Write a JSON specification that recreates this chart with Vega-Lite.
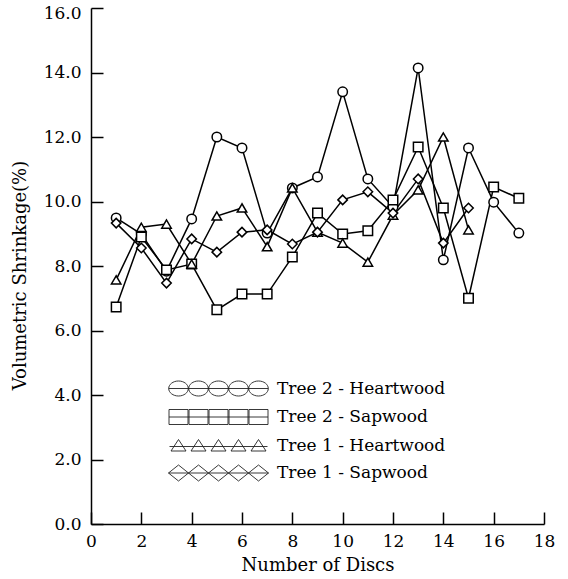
{
  "$schema": "https://vega.github.io/schema/vega-lite/v6.json",
  "width": 453,
  "height": 516,
  "autosize": {"type": "none"},
  "padding": {"left": 91, "top": 8, "right": 24, "bottom": 55},
  "background": "white",
  "config": {
    "view": {"stroke": null},
    "font": "DejaVu Serif",
    "axis": {
      "grid": false,
      "domainColor": "black",
      "domainWidth": 1.5,
      "tickColor": "black",
      "tickWidth": 1.5,
      "tickSize": -12,
      "labelFont": "DejaVu Serif",
      "labelFontSize": 17,
      "labelColor": "black",
      "titleFont": "DejaVu Serif",
      "titleFontSize": 18,
      "titleFontWeight": "normal",
      "titleColor": "black"
    }
  },
  "data": {
    "values": [
      {"Disc": 1, "Series": "Tree 2 - Heartwood", "Shrinkage": 9.49},
      {"Disc": 2, "Series": "Tree 2 - Heartwood", "Shrinkage": 8.99},
      {"Disc": 3, "Series": "Tree 2 - Heartwood", "Shrinkage": 7.84},
      {"Disc": 4, "Series": "Tree 2 - Heartwood", "Shrinkage": 9.46},
      {"Disc": 5, "Series": "Tree 2 - Heartwood", "Shrinkage": 12.0},
      {"Disc": 6, "Series": "Tree 2 - Heartwood", "Shrinkage": 11.66},
      {"Disc": 7, "Series": "Tree 2 - Heartwood", "Shrinkage": 9.02},
      {"Disc": 8, "Series": "Tree 2 - Heartwood", "Shrinkage": 10.42},
      {"Disc": 9, "Series": "Tree 2 - Heartwood", "Shrinkage": 10.76},
      {"Disc": 10, "Series": "Tree 2 - Heartwood", "Shrinkage": 13.4},
      {"Disc": 11, "Series": "Tree 2 - Heartwood", "Shrinkage": 10.7},
      {"Disc": 12, "Series": "Tree 2 - Heartwood", "Shrinkage": 9.83},
      {"Disc": 13, "Series": "Tree 2 - Heartwood", "Shrinkage": 14.14},
      {"Disc": 14, "Series": "Tree 2 - Heartwood", "Shrinkage": 8.19},
      {"Disc": 15, "Series": "Tree 2 - Heartwood", "Shrinkage": 11.66},
      {"Disc": 16, "Series": "Tree 2 - Heartwood", "Shrinkage": 9.98},
      {"Disc": 17, "Series": "Tree 2 - Heartwood", "Shrinkage": 9.02},
      {"Disc": 1, "Series": "Tree 2 - Sapwood", "Shrinkage": 6.73},
      {"Disc": 2, "Series": "Tree 2 - Sapwood", "Shrinkage": 8.9},
      {"Disc": 3, "Series": "Tree 2 - Sapwood", "Shrinkage": 7.88},
      {"Disc": 4, "Series": "Tree 2 - Sapwood", "Shrinkage": 8.06},
      {"Disc": 5, "Series": "Tree 2 - Sapwood", "Shrinkage": 6.64},
      {"Disc": 6, "Series": "Tree 2 - Sapwood", "Shrinkage": 7.13},
      {"Disc": 7, "Series": "Tree 2 - Sapwood", "Shrinkage": 7.13},
      {"Disc": 8, "Series": "Tree 2 - Sapwood", "Shrinkage": 8.28},
      {"Disc": 9, "Series": "Tree 2 - Sapwood", "Shrinkage": 9.64},
      {"Disc": 10, "Series": "Tree 2 - Sapwood", "Shrinkage": 8.99},
      {"Disc": 11, "Series": "Tree 2 - Sapwood", "Shrinkage": 9.09},
      {"Disc": 12, "Series": "Tree 2 - Sapwood", "Shrinkage": 10.05},
      {"Disc": 13, "Series": "Tree 2 - Sapwood", "Shrinkage": 11.69},
      {"Disc": 14, "Series": "Tree 2 - Sapwood", "Shrinkage": 9.8},
      {"Disc": 15, "Series": "Tree 2 - Sapwood", "Shrinkage": 7.0},
      {"Disc": 16, "Series": "Tree 2 - Sapwood", "Shrinkage": 10.45},
      {"Disc": 17, "Series": "Tree 2 - Sapwood", "Shrinkage": 10.1},
      {"Disc": 1, "Series": "Tree 1 - Heartwood", "Shrinkage": 7.57},
      {"Disc": 2, "Series": "Tree 1 - Heartwood", "Shrinkage": 9.2},
      {"Disc": 3, "Series": "Tree 1 - Heartwood", "Shrinkage": 9.3},
      {"Disc": 4, "Series": "Tree 1 - Heartwood", "Shrinkage": 8.06},
      {"Disc": 5, "Series": "Tree 1 - Heartwood", "Shrinkage": 9.55},
      {"Disc": 6, "Series": "Tree 1 - Heartwood", "Shrinkage": 9.8},
      {"Disc": 7, "Series": "Tree 1 - Heartwood", "Shrinkage": 8.6},
      {"Disc": 8, "Series": "Tree 1 - Heartwood", "Shrinkage": 10.42},
      {"Disc": 9, "Series": "Tree 1 - Heartwood", "Shrinkage": 9.05},
      {"Disc": 10, "Series": "Tree 1 - Heartwood", "Shrinkage": 8.71},
      {"Disc": 11, "Series": "Tree 1 - Heartwood", "Shrinkage": 8.12},
      {"Disc": 12, "Series": "Tree 1 - Heartwood", "Shrinkage": 9.58},
      {"Disc": 13, "Series": "Tree 1 - Heartwood", "Shrinkage": 10.36},
      {"Disc": 14, "Series": "Tree 1 - Heartwood", "Shrinkage": 12.0},
      {"Disc": 15, "Series": "Tree 1 - Heartwood", "Shrinkage": 9.12},
      {"Disc": 1, "Series": "Tree 1 - Sapwood", "Shrinkage": 9.33},
      {"Disc": 2, "Series": "Tree 1 - Sapwood", "Shrinkage": 8.56},
      {"Disc": 3, "Series": "Tree 1 - Sapwood", "Shrinkage": 7.47},
      {"Disc": 4, "Series": "Tree 1 - Sapwood", "Shrinkage": 8.84},
      {"Disc": 5, "Series": "Tree 1 - Sapwood", "Shrinkage": 8.43},
      {"Disc": 6, "Series": "Tree 1 - Sapwood", "Shrinkage": 9.05},
      {"Disc": 7, "Series": "Tree 1 - Sapwood", "Shrinkage": 9.12},
      {"Disc": 8, "Series": "Tree 1 - Sapwood", "Shrinkage": 8.68},
      {"Disc": 9, "Series": "Tree 1 - Sapwood", "Shrinkage": 9.05},
      {"Disc": 10, "Series": "Tree 1 - Sapwood", "Shrinkage": 10.05},
      {"Disc": 11, "Series": "Tree 1 - Sapwood", "Shrinkage": 10.3},
      {"Disc": 12, "Series": "Tree 1 - Sapwood", "Shrinkage": 9.64},
      {"Disc": 13, "Series": "Tree 1 - Sapwood", "Shrinkage": 10.7},
      {"Disc": 14, "Series": "Tree 1 - Sapwood", "Shrinkage": 8.71},
      {"Disc": 15, "Series": "Tree 1 - Sapwood", "Shrinkage": 9.8}
    ]
  },
  "encoding": {
    "x": {
      "field": "Disc",
      "type": "quantitative",
      "scale": {"domain": [0, 18], "nice": false, "zero": false},
      "axis": {"values": [0, 2, 4, 6, 8, 10, 12, 14, 16, 18], "title": "Number of Discs", "labelPadding": 21, "titlePadding": 7, "labelFlush": false}
    },
    "y": {
      "field": "Shrinkage",
      "type": "quantitative",
      "scale": {"domain": [0, 16], "nice": false},
      "axis": {
        "values": [0, 2, 4, 6, 8, 10, 12, 14, 16],
        "format": ".1f",
        "title": "Volumetric Shrinkage(%)",
        "titleY": 267,
        "labelPadding": 22,
        "titlePadding": 14,
        "labelFlush": false,
        "labelOffset": {"condition": {"test": "datum.value == 16", "value": 5}, "value": 0}
      }
    }
  },
  "layer": [
    {
      "mark": {"type": "line", "color": "black", "strokeWidth": 1.5},
      "encoding": {"detail": {"field": "Series"}}
    },
    {
      "mark": {"type": "point", "filled": false, "fill": "white", "fillOpacity": 1, "color": "black", "stroke": "black", "strokeWidth": 1.5, "size": 90, "opacity": 1},
      "encoding": {
        "shape": {
          "field": "Series",
          "scale": {"domain": ["Tree 2 - Heartwood", "Tree 2 - Sapwood", "Tree 1 - Heartwood", "Tree 1 - Sapwood"], "range": ["circle", "square", "triangle-up", "diamond"]},
          "legend": null
        }
      }
    },
    {
      "transform": [{"filter": "datum.Disc > 100"}],
      "mark": {"type": "point", "filled": false, "color": "black", "strokeWidth": 1, "opacity": 1},
      "encoding": {
        "shape": {
          "field": "Series",
          "scale": {
            "domain": ["Tree 2 - Heartwood", "Tree 2 - Sapwood", "Tree 1 - Heartwood", "Tree 1 - Sapwood"],
            "range": [
              "M -0.98 0 A 0.98 0.75 0 1 0 0.98 0 A 0.98 0.75 0 1 0 -0.98 0 M 1.02 0 A 0.98 0.75 0 1 0 2.98 0 A 0.98 0.75 0 1 0 1.02 0 M 3.02 0 A 0.98 0.75 0 1 0 4.98 0 A 0.98 0.75 0 1 0 3.02 0 M 5.02 0 A 0.98 0.75 0 1 0 6.98 0 A 0.98 0.75 0 1 0 5.02 0 M 7.02 0 A 0.98 0.75 0 1 0 8.98 0 A 0.98 0.75 0 1 0 7.02 0 M -0.98 0 L 8.98 0",
              "M -0.95 -0.75 H 0.95 V 0.75 H -0.95 Z M 1.05 -0.75 H 2.95 V 0.75 H 1.05 Z M 3.05 -0.75 H 4.95 V 0.75 H 3.05 Z M 5.05 -0.75 H 6.95 V 0.75 H 5.05 Z M 7.05 -0.75 H 8.95 V 0.75 H 7.05 Z M -0.95 0 L 8.95 0",
              "M -0.75 0.55 L 0 -0.6 L 0.75 0.55 Z M 1.25 0.55 L 2 -0.6 L 2.75 0.55 Z M 3.25 0.55 L 4 -0.6 L 4.75 0.55 Z M 5.25 0.55 L 6 -0.6 L 6.75 0.55 Z M 7.25 0.55 L 8 -0.6 L 8.75 0.55 Z M -0.9 0.1 L 8.9 0.1",
              "M -1 0 L 0 -0.8 L 1 0 L 0 0.8 Z M 1 0 L 2 -0.8 L 3 0 L 2 0.8 Z M 3 0 L 4 -0.8 L 5 0 L 4 0.8 Z M 5 0 L 6 -0.8 L 7 0 L 6 0.8 Z M 7 0 L 8 -0.8 L 9 0 L 8 0.8 Z M -1 0 L 9 0"
            ]
          },
          "legend": {
            "orient": "none",
            "legendX": 77,
            "legendY": 370,
            "title": null,
            "padding": 0,
            "symbolSize": 400,
            "symbolStrokeColor": "#222",
            "symbolStrokeWidth": 0.9,
            "symbolFillColor": "transparent",
            "symbolOpacity": 1,
            "labelOffset": 88,
            "rowPadding": 8.5,
            "labelFont": "DejaVu Serif",
            "labelFontSize": 17,
            "labelColor": "black",
            "labelLimit": 400
          }
        }
      }
    }
  ],
  "resolve": {"scale": {"shape": "independent"}, "legend": {"shape": "independent"}}
}
